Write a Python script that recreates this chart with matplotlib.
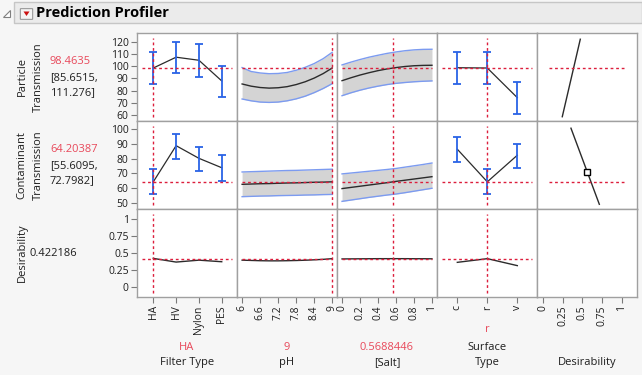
import matplotlib.pyplot as plt
from matplotlib.patches import Rectangle, Polygon, FancyBboxPatch

plt.rcParams['font.family'] = ['Open Sans', 'DejaVu Sans']

filter_types = ['HA', 'HV', 'Nylon', 'PES']
surface_types = ['c', 'r', 'v']

part_filter_mean = [98.46, 107.3, 104.8, 87.9]
part_filter_lo = [85.65, 94.2, 91.4, 74.5]
part_filter_hi = [111.28, 120.1, 117.9, 100.4]

cont_filter_mean = [64.2, 88.8, 80.2, 73.8]
cont_filter_lo = [55.61, 80.0, 71.4, 65.0]
cont_filter_hi = [72.80, 97.0, 88.1, 82.3]

des_filter = [0.426, 0.372, 0.40, 0.377]

ph_vals = [6.0, 6.3, 6.6, 6.9, 7.2, 7.5, 7.8, 8.1, 8.4, 8.7, 9.0]
part_ph_mean = [85.4, 83.6, 82.5, 82.0, 82.3, 83.2, 84.9, 87.2, 90.2, 93.9, 98.46]
part_ph_lo = [73.1, 71.6, 70.6, 70.3, 70.6, 71.6, 73.2, 75.4, 78.3, 81.7, 85.65]
part_ph_hi = [98.8, 95.6, 94.4, 93.8, 94.0, 94.8, 96.6, 99.0, 102.1, 106.1, 111.28]

cont_ph_mean = [62.5, 62.7, 62.9, 63.0, 63.2, 63.4, 63.5, 63.7, 63.9, 64.0, 64.2]
cont_ph_lo = [54.1, 54.3, 54.5, 54.6, 54.8, 54.9, 55.0, 55.2, 55.3, 55.5, 55.61]
cont_ph_hi = [70.9, 71.1, 71.3, 71.5, 71.7, 71.9, 72.0, 72.2, 72.4, 72.6, 72.80]

des_ph = [0.400, 0.396, 0.392, 0.390, 0.390, 0.392, 0.395, 0.399, 0.405, 0.412, 0.422]

salt_vals = [0.0, 0.1, 0.2, 0.3, 0.4, 0.5, 0.6, 0.7, 0.8, 0.9, 1.0]
part_salt_mean = [88.1, 90.5, 92.7, 94.6, 96.3, 97.7, 98.8, 99.7, 100.3, 100.6, 100.7]
part_salt_lo = [75.8, 78.2, 80.3, 82.1, 83.6, 84.9, 85.9, 86.6, 87.2, 87.6, 87.9]
part_salt_hi = [101.0, 103.3, 105.4, 107.3, 108.9, 110.4, 111.6, 112.6, 113.3, 113.7, 113.8]

cont_salt_mean = [59.6, 60.4, 61.2, 62.0, 62.8, 63.6, 64.5, 65.3, 66.1, 66.9, 67.7]
cont_salt_lo = [50.9, 51.8, 52.7, 53.6, 54.4, 55.2, 55.9, 56.8, 57.8, 58.8, 59.8]
cont_salt_hi = [69.6, 70.2, 70.8, 71.4, 72.0, 72.6, 73.3, 74.2, 75.1, 76.0, 77.0]

des_salt = [0.418, 0.419, 0.420, 0.421, 0.422, 0.422, 0.422, 0.422, 0.421, 0.421, 0.420]

part_surf_mean = [98.7, 98.46, 74.2]
part_surf_lo = [85.2, 85.65, 60.6]
part_surf_hi = [111.4, 111.28, 86.8]

cont_surf_mean = [86.4, 64.2, 82.3]
cont_surf_lo = [77.5, 55.61, 73.4]
cont_surf_hi = [94.5, 72.80, 90.2]

des_surf = [0.368, 0.422, 0.32]

part_desfun_d = [0.244, 0.472]
part_desfun_y = [58.6, 122.0]
cont_desfun_d = [0.354, 0.713]
cont_desfun_y = [100.7, 48.9]
cont_handle = (0.561, 70.7)

current = {'filter': 0, 'ph': 9.0, 'salt': 0.5688446, 'surf': 1}
cur_resp = [98.4635, 64.20387, 0.422186]

row_names = [['Particle', 'Transmission'], ['Contaminant', 'Transmission'], ['Desirability']]
row_values = ['98.4635', '64.20387', '0.422186']
row_ci = [['[85.6515,', '111.276]'], ['[55.6095,', '72.7982]'], None]

col_current = ['HA', '9', '0.5688446', 'r', '']
col_names = [['Filter Type'], ['pH'], ['[Salt]'], ['Surface', 'Type'], ['Desirability']]

# ---- style ----
W, H = 642, 375
RED = '#dc1e3c'
BLUE = '#2a63e6'
BAND = '#d4d4d4'
BANDEDGE = '#7c9bf0'
LINE = '#2b2b2b'
GRID = '#a0a0a0'
TXT = '#1e1e1e'

fig = plt.figure(figsize=(W / 100, H / 100), dpi=100)
fig.patch.set_facecolor('#f6f6f6')


def px(x, y):
    return x / W, 1 - y / H


# header bar
fig.patches.append(Rectangle(px(14, 23), (W - 14) / W, 21 / H, transform=fig.transFigure,
                             facecolor='#ebebeb', edgecolor='#c6c6c6', lw=1))
fig.patches.append(Polygon([px(3, 17), px(10, 17), px(10, 10)], closed=True,
                           transform=fig.transFigure, facecolor='white', edgecolor='#808080', lw=0.8))
fig.patches.append(FancyBboxPatch(px(21, 19), 11 / W, 10 / H, boxstyle='round,pad=0.001',
                                  transform=fig.transFigure, facecolor='#f4f4f4',
                                  edgecolor='#9a9a9a', lw=0.8))
fig.patches.append(Polygon([px(23.5, 11.5), px(29.5, 11.5), px(26.5, 16)], closed=True,
                           transform=fig.transFigure, facecolor='#cc1010', edgecolor='none'))
fig.text(*px(36, 13), 'Prediction Profiler', fontsize=10.5, fontweight='bold',
         va='center', ha='left', color='black')

xs = [137, 237, 337, 437, 537, 637]
ys = [33, 121, 209, 297]

xlims = [(-0.715, 3.67), (5.83, 9.16), (-0.056, 1.056), (-0.677, 2.657), (-0.076, 1.19)]
ylims = [(55.1, 127.1), (45.7, 105.6), (-0.14, 1.15)]
yticks = [[60, 70, 80, 90, 100, 110, 120], [50, 60, 70, 80, 90, 100], [0, 0.25, 0.5, 0.75, 1]]
yticklabels = [[str(v) for v in yticks[0]], [str(v) for v in yticks[1]], ['0', '0.25', '0.5', '0.75', '1']]
xticks = [[0, 1, 2, 3], [6, 6.6, 7.2, 7.8, 8.4, 9], [0, 0.2, 0.4, 0.6, 0.8, 1], [0, 1, 2],
          [0, 0.25, 0.5, 0.75, 1]]
xticklabels = [filter_types, ['6', '6.6', '7.2', '7.8', '8.4', '9'],
               ['0', '0.2', '0.4', '0.6', '0.8', '1'], surface_types, ['0', '0.25', '0.5', '0.75', '1']]
cur_x = [current['filter'], current['ph'], current['salt'], current['surf'], None]

axes = [[None] * 5 for _ in range(3)]
for r in range(3):
    for c in range(5):
        l, b = px(xs[c], ys[r + 1])
        ax = fig.add_axes([l, b, (xs[c + 1] - xs[c]) / W, (ys[r + 1] - ys[r]) / H])
        ax.set_facecolor('white')
        ax.set_xlim(*xlims[c])
        ax.set_ylim(*ylims[r])
        for s in ax.spines.values():
            s.set_color(GRID)
            s.set_linewidth(1)
        ax.tick_params(colors='#7a7a7a', labelcolor=TXT, labelsize=7.5, length=4, width=0.8, pad=2)
        if c == 0:
            ax.set_yticks(yticks[r])
            ax.set_yticklabels(yticklabels[r])
        else:
            ax.set_yticks([])
        if r == 2:
            ax.set_xticks(xticks[c])
            ax.set_xticklabels(xticklabels[c], rotation=90)
        else:
            ax.set_xticks([])
        axes[r][c] = ax


def band(ax, x, m, lo, hi):
    ax.fill_between(x, lo, hi, color=BAND, lw=0)
    ax.plot(x, lo, color=BANDEDGE, lw=1)
    ax.plot(x, hi, color=BANDEDGE, lw=1)
    ax.plot(x, m, color=LINE, lw=1)


def cats(ax, m, lo, hi):
    pos = list(range(len(m)))
    ax.plot(pos, m, color=LINE, lw=0.9)
    ax.errorbar(pos, m, yerr=[[a - b for a, b in zip(m, lo)], [b - a for a, b in zip(m, hi)]],
                fmt='none', ecolor=BLUE, elinewidth=1.3, capsize=3, capthick=1.3)


# row 1 particle transmission
cats(axes[0][0], part_filter_mean, part_filter_lo, part_filter_hi)
band(axes[0][1], ph_vals, part_ph_mean, part_ph_lo, part_ph_hi)
band(axes[0][2], salt_vals, part_salt_mean, part_salt_lo, part_salt_hi)
cats(axes[0][3], part_surf_mean, part_surf_lo, part_surf_hi)
axes[0][4].plot(part_desfun_d, part_desfun_y, color=LINE, lw=1)

# row 2 contaminant transmission
cats(axes[1][0], cont_filter_mean, cont_filter_lo, cont_filter_hi)
band(axes[1][1], ph_vals, cont_ph_mean, cont_ph_lo, cont_ph_hi)
band(axes[1][2], salt_vals, cont_salt_mean, cont_salt_lo, cont_salt_hi)
cats(axes[1][3], cont_surf_mean, cont_surf_lo, cont_surf_hi)
axes[1][4].plot(cont_desfun_d, cont_desfun_y, color=LINE, lw=1)
axes[1][4].plot([cont_handle[0]], [cont_handle[1]], marker='s', ms=4.5, mfc='white',
                mec='black', mew=1)

# row 3 desirability
axes[2][0].plot(range(len(des_filter)), des_filter, color=LINE, lw=1)
axes[2][1].plot(ph_vals, des_ph, color=LINE, lw=1)
axes[2][2].plot(salt_vals, des_salt, color=LINE, lw=1)
axes[2][3].plot(range(len(des_surf)), des_surf, color=LINE, lw=1)

# current-value crosshairs
for r in range(3):
    for c in range(5):
        ax = axes[r][c]
        if c < 4:
            ax.axvline(cur_x[c], ymin=0.05, ymax=0.94, color=RED, lw=1, ls=(0, (2, 2)))
            ax.axhline(cur_resp[r], xmin=0.05, xmax=0.95, color=RED, lw=1, ls=(0, (2, 2)))
        elif r < 2:
            ax.axhline(cur_resp[r], xmin=0.12, xmax=0.89, color=RED, lw=1, ls=(0, (2, 2)))

# row labels on the left
for r in range(3):
    cy = (ys[r] + ys[r + 1]) / 2
    names = row_names[r]
    for i, nm in enumerate(names):
        xx = 22 + 16 * i if len(names) > 1 else 22
        fig.text(*px(xx, cy), nm, rotation=90, fontsize=8, ha='center', va='center', color=TXT)
    if row_ci[r] is not None:
        fig.text(*px(50, cy - 15), row_values[r], fontsize=8, ha='left', va='center', color='#e8485a')
        fig.text(*px(50, cy + 0.5), row_ci[r][0], fontsize=8, ha='left', va='center', color=TXT)
        fig.text(*px(50, cy + 16), row_ci[r][1], fontsize=8, ha='left', va='center', color=TXT)
    else:
        fig.text(*px(30, cy + 1), row_values[r], fontsize=8, ha='left', va='center', color=TXT)

# factor labels below
for c in range(5):
    cx = (xs[c] + xs[c + 1]) / 2
    names = col_names[c]
    if len(names) == 2:
        fig.text(*px(cx, 330), col_current[c], fontsize=8, ha='center', va='center', color='#e8485a')
        fig.text(*px(cx, 347), names[0], fontsize=8, ha='center', va='center', color=TXT)
        fig.text(*px(cx, 363), names[1], fontsize=8, ha='center', va='center', color=TXT)
    else:
        if col_current[c]:
            fig.text(*px(cx, 347), col_current[c], fontsize=8, ha='center', va='center', color='#e8485a')
        fig.text(*px(cx, 363), names[0], fontsize=8, ha='center', va='center', color=TXT)

fig.savefig('out.png', dpi=100, facecolor=fig.get_facecolor())
